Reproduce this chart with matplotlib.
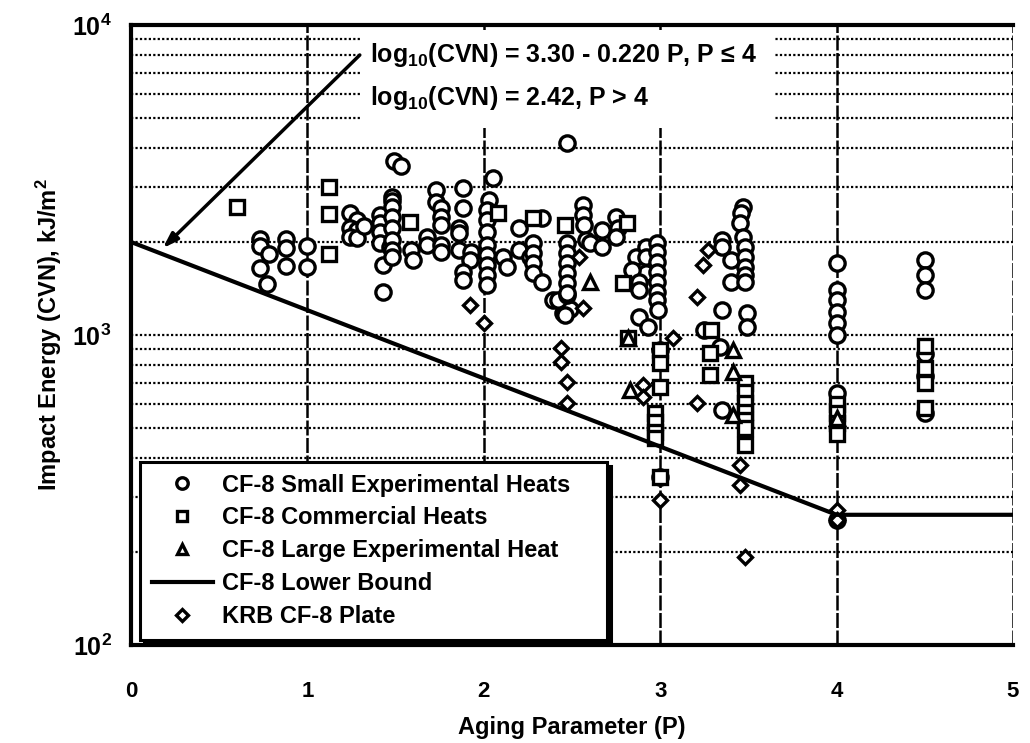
import numpy as np
import matplotlib
matplotlib.use("Agg")
from matplotlib import pyplot as plt
from matplotlib.patches import Rectangle
from matplotlib.ticker import LogLocator, NullFormatter, FixedLocator

plt.rcParams['font.family'] = ['Liberation Sans', 'DejaVu Sans']
plt.rcParams['font.weight'] = 'bold'
plt.rcParams['axes.labelweight'] = 'bold'
plt.rcParams['mathtext.fontset'] = 'custom'
plt.rcParams['mathtext.rm'] = 'Liberation Sans:bold'
plt.rcParams['mathtext.bf'] = 'Liberation Sans:bold'
plt.rcParams['mathtext.default'] = 'bf'

# CF-8 small experimental heats
small_P = [0.73, 0.73, 0.78, 0.73, 0.77, 0.88, 0.88, 0.88, 1.0, 1.0,
           1.24, 1.28, 1.24, 1.28, 1.24, 1.28, 1.32,
           1.48, 1.48, 1.41, 1.41, 1.41, 1.41, 1.47, 1.43, 1.43, 1.49, 1.53,
           1.48, 1.48, 1.48, 1.48, 1.48, 1.48, 1.59, 1.60,
           1.68, 1.68, 1.73, 1.73, 1.76, 1.76, 1.76, 1.76, 1.76,
           1.88, 1.88, 1.86, 1.86, 1.86, 1.93, 1.92, 1.88, 1.88,
           2.05, 2.03, 2.02, 2.02, 2.02, 2.02, 2.02, 2.02, 2.02, 2.02,
           2.11, 2.13, 2.20, 2.20, 2.26,
           2.33, 2.28, 2.28, 2.28, 2.28, 2.33,
           2.39, 2.45, 2.49, 2.42, 2.47, 2.46, 2.47,
           2.47, 2.47, 2.47, 2.47, 2.47, 2.47,
           2.56, 2.56, 2.57, 2.58, 2.60, 2.67, 2.67, 2.75, 2.76, 2.75,
           2.86, 2.92, 2.92, 2.92, 2.84, 2.88, 2.88, 2.88, 2.93,
           2.98, 2.98, 2.98, 2.98, 2.98, 2.98, 2.98, 2.99, 3.0, 3.0,
           3.35, 3.35, 3.40, 3.40,
           3.47, 3.46, 3.45, 3.47, 3.48, 3.48, 3.48, 3.48, 3.48,
           3.35, 3.49, 3.49, 3.25, 3.34, 3.35,
           4.0, 4.0, 4.0, 4.0, 4.0, 4.0, 4.0, 4.0,
           4.5, 4.5, 4.5, 4.5, 4.5, 4.5]
small_cvn = [2040, 1935, 1825, 1645, 1460, 2040, 1905, 1670, 1935, 1660,
             2470, 2350, 2210, 2180, 2070, 2050, 2250,
             2790, 2700, 2440, 2300, 2150, 1980, 1925, 1680, 1375, 3650, 3500,
             2590, 2400, 2210, 2020, 1880, 1785, 1880, 1745,
             2070, 1950, 2940, 2690, 2570, 2400, 2260, 1950, 1850,
             2980, 2570, 2210, 2130, 1880, 1850, 1745, 1600, 1505,
             3210, 2720, 2530, 2350, 2150, 1950, 1810, 1680, 1565, 1450,
             1785, 1660, 2210, 1880, 1785,
             2380, 1980, 1840, 1710, 1585, 1480,
             1300, 1180, 1210, 1295, 1345, 1160, 4160,
             1980, 1840, 1710, 1585, 1470, 1365,
             2630, 2440, 2260, 2020, 1980, 2180, 1925, 2400, 2210, 2070,
             1785, 1925, 1785, 1585, 1620, 1480, 1400, 1140, 1060,
             1980, 1850, 1720, 1600, 1480, 1375, 1300, 1200, 895, 348,
             2020, 1925, 1745, 1480,
             2590, 2470, 2300, 2070, 1925, 1785, 1660, 1560, 1480,
             1200, 1180, 1060, 1037, 915, 573,
             1707, 1397, 1297, 1186, 1093, 1000, 650, 253,
             1745, 1563, 1397, 870, 740, 560]

# CF-8 commercial heats
comm_P = [0.60, 1.12, 1.12, 1.12, 1.58, 2.08, 2.28, 2.46, 2.81, 2.79, 2.82,
          3.0, 3.0, 3.0, 2.97, 2.97, 2.97, 2.97, 3.0,
          3.29, 3.28, 3.28, 3.48, 3.48, 3.48, 3.48, 3.48, 3.48, 3.48,
          4.0, 4.0, 4.0, 4.0, 4.5, 4.5, 4.5, 4.5]
comm_cvn = [2590, 3000, 2455, 1825, 2310, 2470, 2380, 2260, 2300, 1470, 980,
            895, 813, 680, 560, 525, 487, 466, 348,
            1037, 875, 743, 700, 655, 603, 564, 532, 500, 441,
            600, 560, 520, 480, 920, 780, 700, 580]

# CF-8 large experimental heat
large_P = [2.60, 2.82, 2.83, 3.41, 3.41, 3.41, 4.0]
large_cvn = [1480, 980, 665, 895, 760, 552, 540]

# KRB CF-8 plate
krb_P = [1.92, 2.0, 2.44, 2.44, 2.47, 2.47, 2.54, 2.56, 2.90, 2.90, 3.07,
         3.21, 3.21, 3.24, 3.27, 3.45, 3.45, 3.48, 3.0, 4.0, 4.0]
krb_cvn = [1250, 1093, 908, 818, 705, 603, 1785, 1220, 690, 630, 980,
           603, 1330, 1680, 1880, 380, 328, 192, 294, 272, 253]

# lower bound: log10(CVN) = 3.30 - 0.220 P for P <= 4, 2.42 beyond
bound_P = [0.0, 4.0, 5.0]
bound_log = [3.30, 2.42, 2.42]

fig = plt.figure(figsize=(10.3, 7.43), dpi=100)
ax = fig.add_axes([0.1272, 0.1319, 0.8563, 0.8345])

ax.set_yscale('log')
ax.set_xlim(0, 5)
ax.set_ylim(100, 10000)

ax.yaxis.set_major_locator(FixedLocator([100, 1000, 10000]))
ax.yaxis.set_minor_locator(LogLocator(base=10, subs=np.arange(2, 10)))
ax.yaxis.set_minor_formatter(NullFormatter())
ax.set_yticklabels([r'$10^2$', r'$10^3$', r'$10^4$'])
ax.set_xticks([0, 1, 2, 3, 4, 5])
ax.set_xticklabels(['0', '1', '2', '3', '4', '5'])

ax.tick_params(which='both', length=0)
ax.tick_params(axis='x', pad=26, labelsize=16)
ax.tick_params(axis='y', pad=14, labelsize=18)

ax.grid(axis='y', which='both', color='k', lw=1.6, ls=(0, (1, 1)))
ax.grid(axis='x', which='major', color='k', lw=1.8, ls=(0, (6, 1)))

for s in ['left', 'top', 'bottom']:
    ax.spines[s].set_linewidth(3)
ax.spines['right'].set_visible(False)

mk = dict(ls='none', mfc='white', mec='black', mew=2.4, zorder=4)
ax.plot(small_P, small_cvn, marker='o', ms=11, label='CF-8 Small Experimental Heats', **mk)
ax.plot(comm_P, comm_cvn, marker='s', ms=10, label='CF-8 Commercial Heats', **mk)
ax.plot(large_P, large_cvn, marker='^', ms=10, label='CF-8 Large Experimental Heat', **mk)
ax.plot(bound_P, 10 ** np.array(bound_log), color='black', lw=3, zorder=5,
        label='CF-8 Lower Bound')
ax.plot(krb_P, krb_cvn, marker='D', ms=7.5, label='KRB CF-8 Plate', **mk)

# white panel behind the equations
ax.add_patch(Rectangle((1.297, 4660), 2.352, 9640 - 4660, facecolor='white',
                       edgecolor='none', zorder=2))
ax.text(1.354, 8000, r'log$_{10}$(CVN) = 3.30 - 0.220 P, P ≤ 4', fontsize=18,
        va='center', ha='left', zorder=6)
ax.text(1.354, 5820, r'log$_{10}$(CVN) = 2.42, P > 4', fontsize=18,
        va='center', ha='left', zorder=6)
ax.annotate('', xy=(0.18, 1905), xytext=(1.297, 8000),
            arrowprops=dict(arrowstyle='-|>,head_length=0.9,head_width=0.3',
                            color='black', lw=2.5, shrinkA=0, shrinkB=0),
            zorder=6)

leg = ax.legend(loc='lower left', bbox_to_anchor=(0.01, 0.008, 0.53, 0.327),
                mode='expand', fontsize=17, frameon=True, fancybox=False,
                markerscale=0.75, handlelength=2.6, handletextpad=0.4,
                borderaxespad=0, labelspacing=0.42, borderpad=0.5,
                shadow={'color': 'black', 'alpha': 1, 'ox': 3, 'oy': -3})
leg.get_frame().set_edgecolor('black')
leg.get_frame().set_linewidth(2.2)
leg.get_frame().set_alpha(1)
leg.set_zorder(7)

ax.set_xlabel('Aging Parameter (P)', fontsize=17, labelpad=10)
ax.set_ylabel(r'Impact Energy (CVN), kJ/m$^2$', fontsize=17, labelpad=6)

fig.savefig('out.png', dpi=100)
